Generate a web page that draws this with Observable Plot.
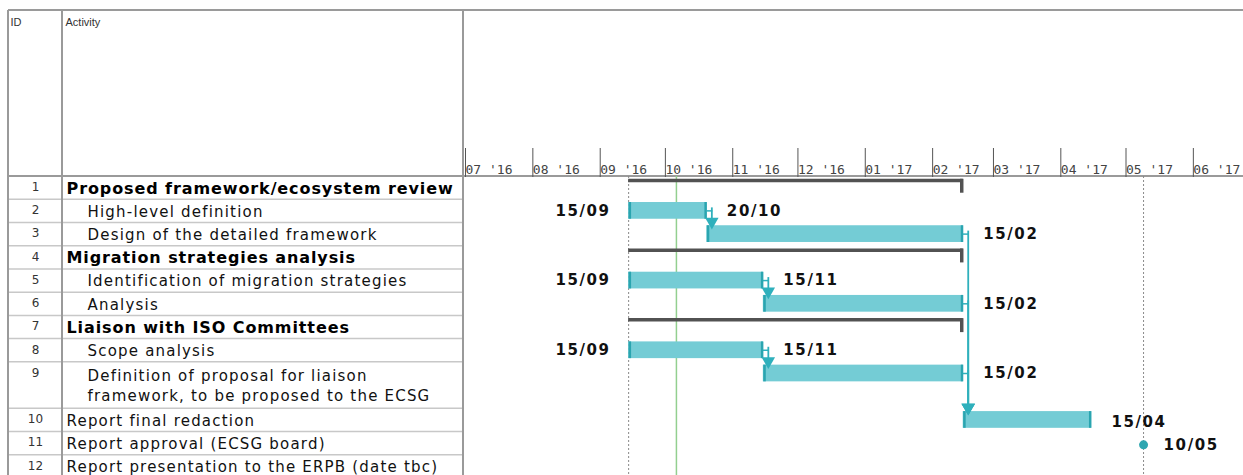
<!DOCTYPE html>
<html><head><meta charset="utf-8">
<script src="https://cdn.jsdelivr.net/npm/d3@7"></script>
<script src="https://cdn.jsdelivr.net/npm/@observablehq/plot@0.6"></script>
<style>body{margin:0;background:#fff} #chart{width:1243px;height:475px;overflow:hidden}</style>
</head><body><div id="chart"></div>
<script>
// ---------- data ----------
const ids = [1,2,3,4,5,6,7,8,9,10,11,12];
const activities = [
  "Proposed framework/ecosystem review",
  "High-level definition",
  "Design of the detailed framework",
  "Migration strategies analysis",
  "Identification of migration strategies",
  "Analysis",
  "Liaison with ISO Committees",
  "Scope analysis",
  "Definition of proposal for liaison\nframework, to be proposed to the ECSG",
  "Report final redaction",
  "Report approval (ECSG board)",
  "Report presentation to the ERPB (date tbc)"
];
const levels   = [0,1,1,0,1,1,0,1,1,0,0,0];
const rowSpans = [1,1,1,1,1,1,1,1,2,1,1,1];
const kinds    = ["summary","task","task","summary","task","task","summary","task","task","task","milestone","none"];
const starts   = ["2016-09-15","2016-09-15","2016-10-21","2016-09-15","2016-09-15","2016-11-16","2016-09-15","2016-09-15","2016-11-16","2017-02-16","2017-05-10",null];
const ends     = ["2017-02-15","2016-10-20","2017-02-15","2017-02-15","2016-11-15","2017-02-15","2017-02-15","2016-11-15","2017-02-15","2017-04-15","2017-05-10",null];
const startLabels = [null,"15/09",null,null,"15/09",null,null,"15/09",null,null,null,null];
const endLabels   = [null,"20/10","15/02",null,"15/11","15/02",null,"15/11","15/02","15/04","10/05",null];
const links = [[2,3],[5,6],[8,9],[3,10],[6,10],[9,10]];
const monthTicks = ["2016-07-01","2016-08-01","2016-09-01","2016-10-01","2016-11-01","2016-12-01",
                    "2017-01-01","2017-02-01","2017-03-01","2017-04-01","2017-05-01","2017-06-01"];
const todayDate = "2016-10-07";
const markerDates = ["2016-09-15","2017-05-10"];
const timeDomain = ["2016-07-01","2017-06-25"];

// ---------- derived ----------
const parse = d3.utcParse("%Y-%m-%d");
let cum = 0;
const rows = ids.map((id, i) => {
  const top = cum; cum += rowSpans[i];
  return {
    id, i, top, span: rowSpans[i], text: activities[i], level: levels[i], kind: kinds[i],
    x1: starts[i] ? parse(starts[i]) : null,
    x2: ends[i] ? (kinds[i] === "milestone" ? parse(ends[i]) : d3.utcDay.offset(parse(ends[i]), 1)) : null,
    sLabel: startLabels[i], eLabel: endLabels[i]
  };
});
const totalUnits = cum;
const byId = new Map(rows.map(r => [r.id, r]));
const tasks = rows.filter(r => r.kind === "task");
const summaries = rows.filter(r => r.kind === "summary");
const milestones = rows.filter(r => r.kind === "milestone");
const linkData = links.map(([a, b]) => ({from: byId.get(a), to: byId.get(b)}));

const BAR_T = 0.12, BAR_B = 0.84, BAR_M = (BAR_T + BAR_B) / 2;
const TEAL = "#74ccd5", TEAL_D = "#2aa5b0", LINK = "#2fb0bc";

// render helper: letter spacing and optional clip to the Activity column
const styled = (spacing, clip) => (index, scales, values, dims, context, next) => {
  const g = next(index, scales, values, dims, context);
  if (g) g.setAttribute("letter-spacing", spacing);
  if (!clip) return g;
  const wrap = document.createElementNS("http://www.w3.org/2000/svg", "g");
  wrap.setAttribute("clip-path", "url(#tblclip)");
  if (g) wrap.appendChild(g);
  return wrap;
};

const grid = (index, scales, values, dims) => {
  const y = scales.y;
  const g = d3.create("svg:g");
  g.append("defs").append("clipPath").attr("id", "tblclip")
    .append("rect").attr("x", 62).attr("y", 0).attr("width", 400).attr("height", dims.height);
  g.selectAll("line.row").data(rows.slice(1).map(r => r.top)).join("line")
    .attr("x1", 8).attr("x2", 463).attr("y1", d => y(d)).attr("y2", d => y(d))
    .attr("stroke", "#c8c8c8").attr("stroke-width", 1.5);
  const H = dims.height;
  [[8, 10, 1243, 10], [8, 176, 1243, 176], [8, 10, 8, H], [62, 10, 62, H], [463, 10, 463, H]]
    .forEach(([a, b, c, d]) => g.append("line").attr("x1", a).attr("y1", b).attr("x2", c).attr("y2", d)
      .attr("stroke", "#9a9a9a").attr("stroke-width", 2));
  return g.node();
};

const tableText = (data, dx, spacing, extra) => Plot.text(data, {
  frameAnchor: "left", y: d => d.top + d.span / 2, dy: -1, dx, text: "text",
  textAnchor: "start", lineHeight: 1.3, render: styled(spacing, true), ...extra
});

const chart = Plot.plot({
  width: 1243, height: 475,
  marginTop: 176, marginLeft: 463, marginRight: 0, marginBottom: 0,
  style: {fontFamily: "DejaVu Sans", background: "#fff", overflow: "hidden"},
  x: {type: "utc", domain: timeDomain.map(parse), range: [463, 1243]},
  y: {domain: [0, totalUnits], range: [176, 478], axis: null},
  marks: [
    grid,
    // reference lines
    Plot.ruleX(markerDates.map(parse), {x: d => d, stroke: "#8a8a8a", strokeDasharray: "2,2", strokeWidth: 1}),
    Plot.ruleX([parse(todayDate)], {x: d => d, stroke: "#93cf8f", strokeWidth: 1.5}),
    // summary bars
    Plot.ruleY(summaries, {x1: "x1", x2: "x2", y: d => d.top + 0.17, stroke: "#525252", strokeWidth: 3.5}),
    Plot.ruleX(summaries, {x: "x2", y1: d => d.top + 0.12, y2: d => d.top + 0.72, stroke: "#525252", strokeWidth: 3.5, dx: -1.5}),
    // task bars
    Plot.rect(tasks, {x1: "x1", x2: "x2", y1: d => d.top + BAR_T, y2: d => d.top + BAR_B, fill: TEAL}),
    Plot.ruleX(tasks, {x: "x1", y1: d => d.top + BAR_T, y2: d => d.top + BAR_B, stroke: TEAL_D, strokeWidth: 2.5, dx: 1.2}),
    Plot.ruleX(tasks, {x: "x2", y1: d => d.top + BAR_T, y2: d => d.top + BAR_B, stroke: TEAL_D, strokeWidth: 2.5, dx: -1.2}),
    // dependency links
    Plot.ruleY(linkData, {x1: d => d.from.x2, x2: d => d.from.x2, y: d => d.from.top + BAR_M, insetRight: -6, stroke: LINK, strokeWidth: 1.5}),
    Plot.ruleX(linkData, {x: d => d.from.x2, y1: d => d.from.top + BAR_M, y2: d => d.to.top + BAR_T, dx: 5, dy: -3, stroke: LINK, strokeWidth: 1.8}),
    Plot.dot(linkData, {x: d => d.from.x2, y: d => d.to.top + BAR_T, dx: 5, dy: -4, symbol: "triangle", rotate: 180, r: 5, fill: LINK, stroke: "none"}),
    // milestone
    Plot.dot(milestones, {x: "x1", y: d => d.top + 0.55, r: 4.5, fill: "#2ea6b0"}),
    // date labels
    Plot.text(rows.filter(r => r.sLabel), {x: "x1", y: d => d.top + BAR_M, text: "sLabel", dx: -18, textAnchor: "end",
      fontWeight: "bold", fontSize: 15, fill: "#111", render: styled("1.6px", false)}),
    Plot.text(rows.filter(r => r.eLabel), {x: "x2", y: d => d.top + (d.kind === "milestone" ? 0.55 : BAR_M) + (d.id === 10 ? 0.1 : 0), text: "eLabel", dx: 20, textAnchor: "start",
      fontWeight: "bold", fontSize: 15, fill: "#111", render: styled("1.6px", false)}),
    // header
    Plot.text(["ID"], {frameAnchor: "top-left", dx: -453, dy: -158, text: d => d, fontSize: 11, fill: "#333", fontFamily: "Liberation Sans"}),
    Plot.text(["Activity"], {frameAnchor: "top-left", dx: -398, dy: -158, text: d => d, fontSize: 11, fill: "#333", fontFamily: "Liberation Sans"}),
    // table text
    Plot.text(rows, {frameAnchor: "left", y: d => d.top + 0.5, dy: -1, dx: -428, text: "id", textAnchor: "middle", fontSize: 12, fill: "#333"}),
    tableText(rows.filter(r => r.kind === "summary"), -397, "0.9px", {fontSize: 16, fontWeight: "bold", fill: "#000"}),
    tableText(rows.filter(r => r.kind !== "summary" && r.level === 0), -397, "1.2px", {fontSize: 15, fill: "#111"}),
    tableText(rows.filter(r => r.kind !== "summary" && r.level === 1), -376, "1.2px", {fontSize: 15, fill: "#111"}),
    // month axis
    Plot.axisX({anchor: "top", ticks: monthTicks.map(parse), tickFormat: d3.utcFormat("%m '%y"), tickSize: 29, tickPadding: -26,
      textAnchor: "start", dx: 2, fontSize: 13, stroke: "#555", fill: "#444", fontFamily: "DejaVu Sans Mono", label: null})
  ]
});
document.getElementById("chart").append(chart);
</script>
</body></html>
